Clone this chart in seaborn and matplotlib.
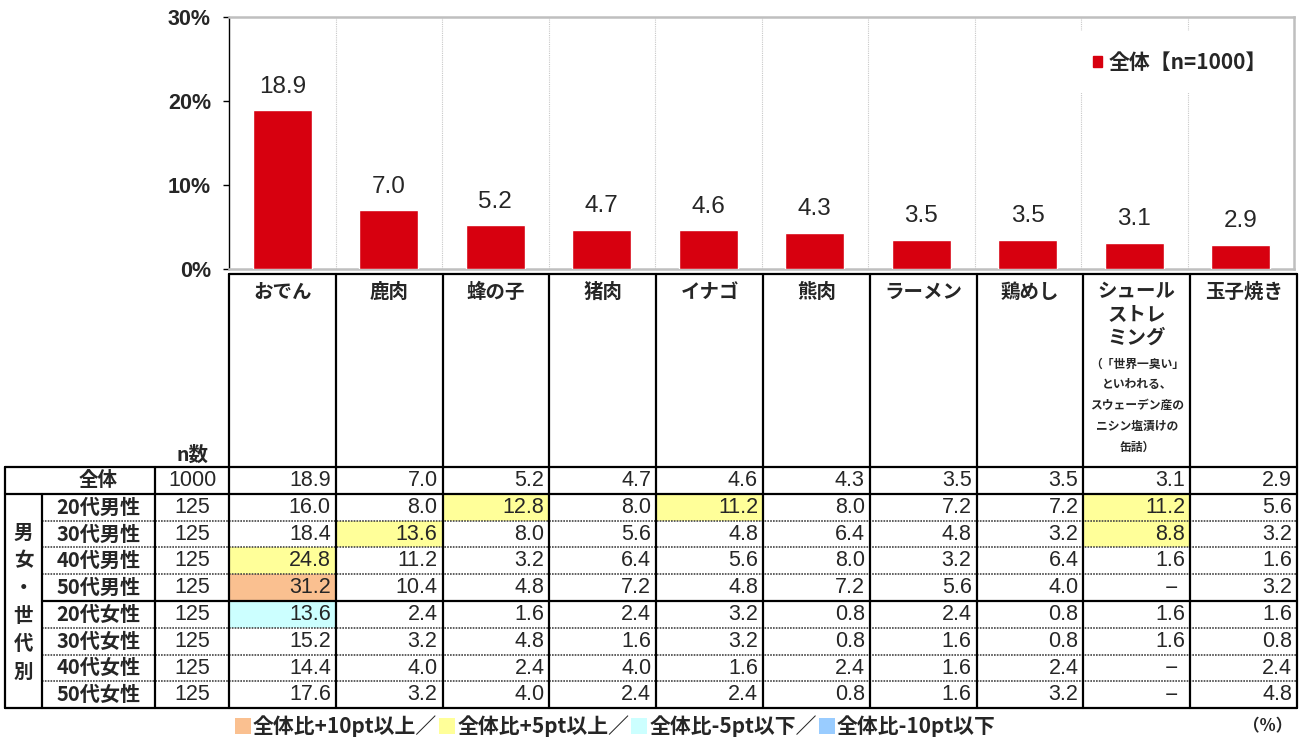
import numpy as np
import pandas as pd
import matplotlib
matplotlib.use("Agg")
import matplotlib.pyplot as plt
import seaborn as sns
from matplotlib.patches import Rectangle

# データ
categories = ["おでん", "鹿肉", "蜂の子", "猪肉", "イナゴ", "熊肉", "ラーメン", "鶏めし",
              "シュールストレミング", "玉子焼き"]
header_lines = [["おでん"], ["鹿肉"], ["蜂の子"], ["猪肉"], ["イナゴ"], ["熊肉"], ["ラーメン"],
                ["鶏めし"], ["シュール", "ストレ", "ミング"], ["玉子焼き"]]
header_note = ["（「世界一臭い」", "といわれる、", "スウェーデン産の", "ニシン塩漬けの", "缶詰）"]

total_label = "全体"
total_n = 1000
total = [18.9, 7.0, 5.2, 4.7, 4.6, 4.3, 3.5, 3.5, 3.1, 2.9]

groups = ["20代男性", "30代男性", "40代男性", "50代男性",
          "20代女性", "30代女性", "40代女性", "50代女性"]
group_n = [125, 125, 125, 125, 125, 125, 125, 125]
m20 = [16.0, 8.0, 12.8, 8.0, 11.2, 8.0, 7.2, 7.2, 11.2, 5.6]
m30 = [18.4, 13.6, 8.0, 5.6, 4.8, 6.4, 4.8, 3.2, 8.8, 3.2]
m40 = [24.8, 11.2, 3.2, 6.4, 5.6, 8.0, 3.2, 6.4, 1.6, 1.6]
m50 = [31.2, 10.4, 4.8, 7.2, 4.8, 7.2, 5.6, 4.0, np.nan, 3.2]
f20 = [13.6, 2.4, 1.6, 2.4, 3.2, 0.8, 2.4, 0.8, 1.6, 1.6]
f30 = [15.2, 3.2, 4.8, 1.6, 3.2, 0.8, 1.6, 0.8, 1.6, 0.8]
f40 = [14.4, 4.0, 2.4, 4.0, 1.6, 2.4, 1.6, 2.4, np.nan, 2.4]
f50 = [17.6, 3.2, 4.0, 2.4, 2.4, 0.8, 1.6, 3.2, np.nan, 4.8]
group_values = [m20, m30, m40, m50, f20, f30, f40, f50]

legend_labels = ["全体比+10pt以上／", "全体比+5pt以上／", "全体比-5pt以下／", "全体比-10pt以下"]
legend_colors = ["#FAC090", "#FFFF99", "#CCFFFF", "#99CCFF"]

sns.set_style("white")
plt.rcParams['font.family'] = ['Noto Sans CJK JP', 'DejaVu Sans']
NUM = ['Liberation Sans', 'Noto Sans CJK JP']
RED = "#D7000F"

W, H = 1306, 738
fig = plt.figure(figsize=(W / 100, H / 100), dpi=100)

# 棒グラフ
ax = fig.add_axes([229 / W, 1 - 269 / H, (1294 - 229) / W, (269 - 17) / H])
df = pd.DataFrame({"item": categories, "pct": total})
sns.barplot(data=df, x="item", y="pct", color=RED, width=0.55, saturation=1, ax=ax, zorder=3)
ax.set_xlim(-0.5, 9.5)
ax.set_ylim(0, 30)
ax.set_yticks([0, 10, 20, 30])
ax.set_yticklabels([f"{t}%" for t in [0, 10, 20, 30]], fontsize=15.5, fontweight="bold", family=NUM)
ax.set_xticks([])
ax.set_xlabel("")
ax.set_ylabel("")
ax.tick_params(axis="y", direction="out", length=4, width=1, color="black", pad=9, left=True)
for b in np.arange(0.5, 9.5, 1):
    ax.axvline(b, color="#C8C8C8", lw=0.8, ls=(0, (1, 1)), zorder=0)
for s in ["top", "right", "bottom"]:
    ax.spines[s].set_color("#BFBFBF")
    ax.spines[s].set_linewidth(1.8)
ax.spines["left"].set_color("black")
ax.spines["left"].set_linewidth(1)
for i, v in enumerate(total):
    ax.annotate(f"{v:.1f}", (i, v), xytext=(0, 17), textcoords="offset points",
                ha="center", va="center", fontsize=17.5, family=NUM)

leg = ax.legend([Rectangle((0, 0), 1, 1, color=RED)], ["全体【n=1000】"],
                loc="center", bbox_to_anchor=(0.893, 0.821), frameon=True,
                facecolor="white", edgecolor="none", framealpha=1,
                prop={"weight": "bold", "size": 15}, handlelength=0.45, handleheight=0.45,
                handletextpad=0.3, borderpad=1.0)
leg.set_zorder(5)

# 表
axt = fig.add_axes([0, 0, 1, 1])
axt.set_xlim(0, W)
axt.set_ylim(H, 0)
axt.axis("off")

col_x0, col_w = 229, 106.8
col_edges = col_x0 + col_w * np.arange(len(categories) + 1)
col_mid = (col_edges[:-1] + col_edges[1:]) / 2
head_top, row_top, row_h = 274, 467, 26.8
row_edges = row_top + row_h * np.arange(len(groups) + 2)
row_mid = (row_edges[:-1] + row_edges[1:]) / 2
x_left, x_grp, x_n = 5, 42, 155
x_right = col_edges[-1]
lab_mid = (x_grp + x_n) / 2
n_mid = (x_n + col_x0) / 2

# セルの色分け
for r, vals in enumerate(group_values):
    for c, v in enumerate(vals):
        if np.isnan(v):
            continue
        d = round(v - total[c], 1)
        col = None
        if d >= 10:
            col = legend_colors[0]
        elif d >= 5:
            col = legend_colors[1]
        elif d <= -10:
            col = legend_colors[3]
        elif d <= -5:
            col = legend_colors[2]
        if col:
            axt.add_patch(Rectangle((col_edges[c], row_edges[r + 1]), col_w, row_h,
                                    facecolor=col, edgecolor="none", zorder=1))

LW = 1.6
# 罫線
for y in [row_edges[1], row_edges[5]]:
    x0 = x_left if y == row_edges[1] else x_grp
    axt.plot([x0, x_right], [y, y], color="black", lw=LW, zorder=3)
for k in [2, 3, 4, 6, 7, 8]:
    axt.plot([x_grp, x_right], [row_edges[k], row_edges[k]], color="#444444", lw=1.2,
             ls=(0, (1, 0.7)), zorder=2)
axt.plot([x_left, x_right], [row_edges[0], row_edges[0]], color="black", lw=LW, zorder=3)
axt.plot([x_left, x_right], [row_edges[-1], row_edges[-1]], color="black", lw=LW, zorder=3)
axt.plot([col_x0, x_right], [head_top, head_top], color="black", lw=LW, zorder=3)
for x in col_edges:
    axt.plot([x, x], [head_top, row_edges[-1]], color="black", lw=LW, zorder=3)
axt.plot([x_left, x_left], [row_edges[0], row_edges[-1]], color="black", lw=LW, zorder=3)
axt.plot([x_n, x_n], [row_edges[0], row_edges[-1]], color="black", lw=LW, zorder=3)
axt.plot([x_grp, x_grp], [row_edges[1], row_edges[-1]], color="black", lw=LW, zorder=3)

# 見出し
for c, lines in enumerate(header_lines):
    for j, t in enumerate(lines):
        axt.text(col_mid[c], 292 + 23 * j, t, ha="center", va="center",
                 fontsize=14, fontweight="bold", zorder=4)
for j, t in enumerate(header_note):
    axt.text(col_mid[8], 364 + 20.8 * j, t, ha="center", va="center",
             fontsize=8.5, fontweight="bold", zorder=4)
axt.text(n_mid, 455, "n数", ha="center", va="center", fontsize=14, fontweight="bold")

# 全体の行
axt.text(lab_mid, row_mid[0], total_label, ha="center", va="center", fontsize=14, fontweight="bold")
axt.text(n_mid, row_mid[0], str(total_n), ha="center", va="center", fontsize=15.5, family=NUM)
for c, v in enumerate(total):
    axt.text(col_edges[c + 1] - 5, row_mid[0], f"{v:.1f}", ha="right", va="center",
             fontsize=15.5, family=NUM, zorder=4)

# 男女・世代別
for r, (g, n, vals) in enumerate(zip(groups, group_n, group_values)):
    y = row_mid[r + 1]
    axt.text(lab_mid, y, g, ha="center", va="center", fontsize=14.5, fontweight="bold")
    axt.text(n_mid, y, str(n), ha="center", va="center", fontsize=15.5, family=NUM)
    for c, v in enumerate(vals):
        if np.isnan(v):
            axt.text(col_edges[c + 1] - 11, y, "－", ha="right", va="center",
                     fontsize=11, fontweight="bold", zorder=4)
        else:
            axt.text(col_edges[c + 1] - 5, y, f"{v:.1f}", ha="right", va="center",
                     fontsize=15.5, family=NUM, zorder=4)
for j, ch in enumerate("男女・世代別"):
    axt.text((x_left + x_grp) / 2, 533 + 27.8 * j, ch, ha="center", va="center",
             fontsize=14, fontweight="bold")

# 凡例（色分け）: 文字幅を測りながら横に並べる
fig.canvas.draw()
renderer = fig.canvas.get_renderer()
x = 235
for lab, col in zip(legend_labels, legend_colors):
    axt.add_patch(Rectangle((x, 718), 16, 16, facecolor=col, edgecolor="none"))
    t = axt.text(x + 18, 726, lab, ha="left", va="center", fontsize=15, fontweight="bold")
    bb = t.get_window_extent(renderer)
    x = bb.x1 + 2
axt.text(1292, 726, "（%）", ha="right", va="center", fontsize=12, fontweight="bold")

fig.savefig("out.png", dpi=100)
